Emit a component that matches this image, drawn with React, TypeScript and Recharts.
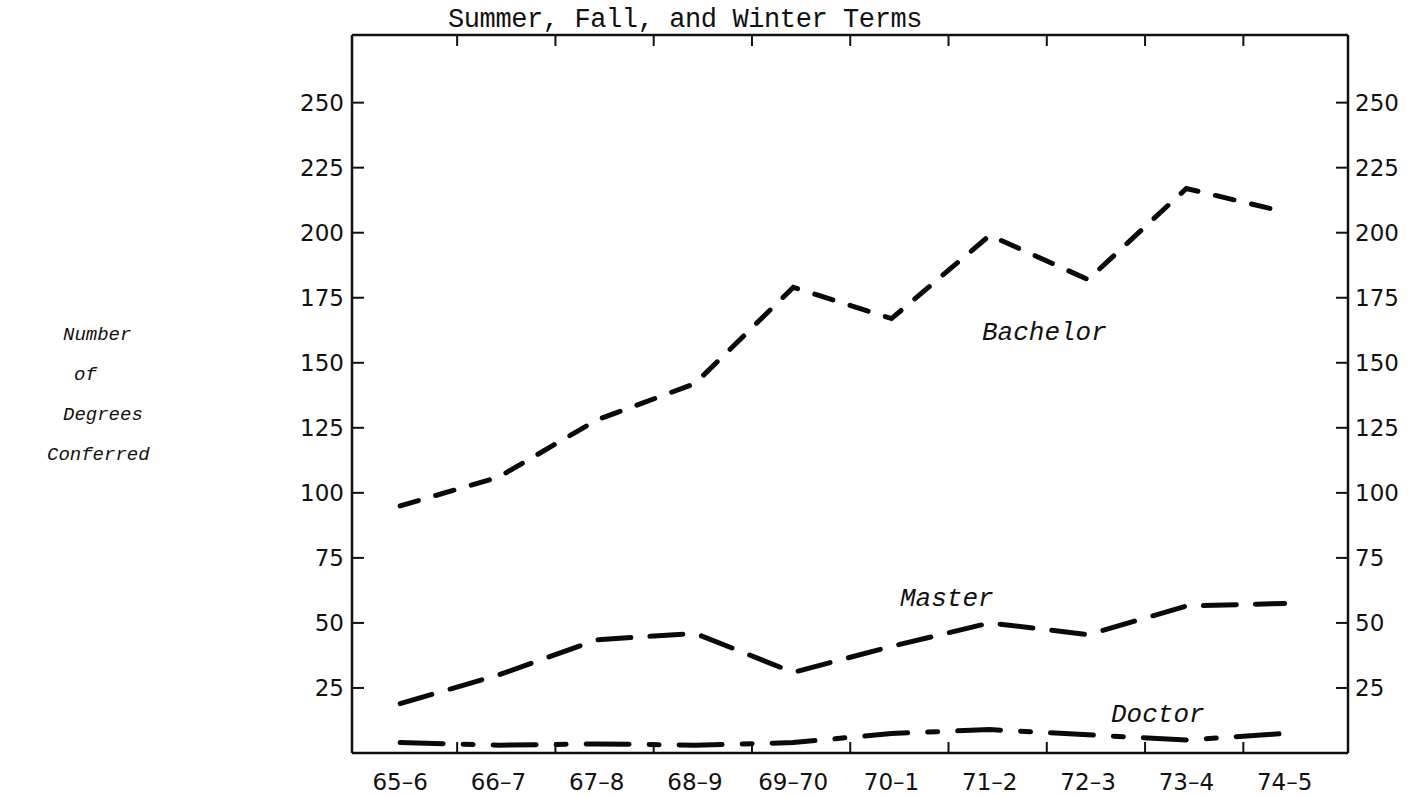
import React from 'react';
import { LineChart, Line, XAxis, YAxis } from 'recharts';

const terms = ['65–6', '66–7', '67–8', '68–9', '69–70', '70–1', '71–2', '72–3', '73–4', '74–5'];
const bachelor = [95, 106, 128, 142, 179, 167, 199, 182, 217, 208];
const master = [19, 30, 43.5, 46, 31, 41, 50, 45.5, 56.5, 57.5];
const doctor = [4, 3, 3.5, 3, 4, 7.5, 9, 7, 5, 7.5];
const yTicks = [25, 50, 75, 100, 125, 150, 175, 200, 225, 250];
const yDomain = [0, 276];
const xDomain = [-0.49, 9.645];
const frameTickOffset = 0.58;

const rows = terms.map((term, i) => ({
  i,
  term,
  bachelor: bachelor[i],
  master: master[i],
  doctor: doctor[i],
}));
const termTicks = terms.map((_, i) => i);
const frameTicks = terms.slice(1).map((_, i) => i + frameTickOffset);

const INK = '#111';
const NUM_FONT = 'DejaVu Sans, sans-serif';
const MONO = 'Liberation Mono, Courier New, monospace';
const axisStyle = { stroke: INK, strokeWidth: 2.5 };

const BottomTick = (props: any) => {
  const { x, y, payload } = props;
  const v = payload.value;
  if (Number.isInteger(v)) {
    return (
      <text x={x} y={y + 37} textAnchor="middle" fontFamily={NUM_FONT} fontSize={23} fill={INK}>
        {terms[v]}
      </text>
    );
  }
  return <line x1={x} x2={x} y1={y} y2={y - 11} stroke={INK} strokeWidth={2} />;
};

const TopTick = (props: any) => {
  const { x, y } = props;
  return <line x1={x} x2={x} y1={y} y2={y + 11} stroke={INK} strokeWidth={2} />;
};

const LeftTick = (props: any) => {
  const { x, y, payload } = props;
  return (
    <g>
      <line x1={x} x2={x + 12} y1={y} y2={y} stroke={INK} strokeWidth={2} />
      <text x={x - 8} y={y + 8.3} textAnchor="end" fontFamily={NUM_FONT} fontSize={23} fill={INK}>
        {payload.value}
      </text>
    </g>
  );
};

const RightTick = (props: any) => {
  const { x, y, payload } = props;
  return (
    <g>
      <line x1={x} x2={x - 12} y1={y} y2={y} stroke={INK} strokeWidth={2} />
      <text x={x + 7} y={y + 8.3} textAnchor="start" fontFamily={NUM_FONT} fontSize={23} fill={INK}>
        {payload.value}
      </text>
    </g>
  );
};

const lineCommon = {
  type: 'linear' as const,
  stroke: '#0a0a0a',
  strokeWidth: 5,
  strokeLinecap: 'round' as const,
  dot: false,
  activeDot: false,
  isAnimationActive: false,
  xAxisId: 'bottom',
  yAxisId: 'left',
};

export default function App() {
  return (
    <div style={{ position: 'absolute', left: 0, top: 0, width: 1421, height: 797, background: '#fff' }}>
      <LineChart width={1421} height={797} data={rows} margin={{ top: 0, right: 0, bottom: 0, left: 0 }}>
        <XAxis
          xAxisId="bottom"
          dataKey="i"
          type="number"
          domain={xDomain}
          allowDataOverflow
          ticks={[...termTicks, ...frameTicks]}
          interval={0}
          tickLine={false}
          tickSize={0}
          tickMargin={0}
          tick={BottomTick}
          axisLine={axisStyle}
          height={44}
        />
        <XAxis
          xAxisId="top"
          orientation="top"
          dataKey="i"
          type="number"
          domain={xDomain}
          allowDataOverflow
          ticks={frameTicks}
          interval={0}
          tickLine={false}
          tickSize={0}
          tickMargin={0}
          tick={TopTick}
          axisLine={axisStyle}
          height={35}
        />
        <YAxis
          yAxisId="left"
          type="number"
          domain={yDomain}
          allowDataOverflow
          ticks={yTicks}
          interval={0}
          tickLine={false}
          tickSize={0}
          tickMargin={0}
          tick={LeftTick}
          axisLine={axisStyle}
          width={352}
        />
        <YAxis
          yAxisId="right"
          orientation="right"
          type="number"
          domain={yDomain}
          allowDataOverflow
          ticks={yTicks}
          interval={0}
          tickLine={false}
          tickSize={0}
          tickMargin={0}
          tick={RightTick}
          axisLine={axisStyle}
          width={73}
        />
        <Line {...lineCommon} dataKey="bachelor" name="Bachelor" strokeDasharray="19 18" />
        <Line {...lineCommon} dataKey="master" name="Master" strokeDasharray="33 19" />
        <Line {...lineCommon} dataKey="doctor" name="Doctor" strokeDasharray="43 20 10 20" />
      </LineChart>
      <svg
        width={1421}
        height={797}
        style={{ position: 'absolute', left: 0, top: 0, pointerEvents: 'none' }}
      >
        <text x={448} y={27} fontFamily={MONO} fontSize={27} letterSpacing={-0.4} fill={INK}>
          Summer, Fall, and Winter Terms
        </text>
        <g fontFamily={MONO} fontStyle="italic" fontSize={19} fill={INK}>
          <text x={63} y={340}>Number</text>
          <text x={74} y={380}>of</text>
          <text x={63} y={420}>Degrees</text>
          <text x={47} y={460}>Conferred</text>
        </g>
        <g fontFamily={MONO} fontStyle="italic" fontSize={26} fill={INK}>
          <text x={982} y={340}>Bachelor</text>
          <text x={900} y={606}>Master</text>
          <text x={1111} y={722}>Doctor</text>
        </g>
      </svg>
    </div>
  );
}
